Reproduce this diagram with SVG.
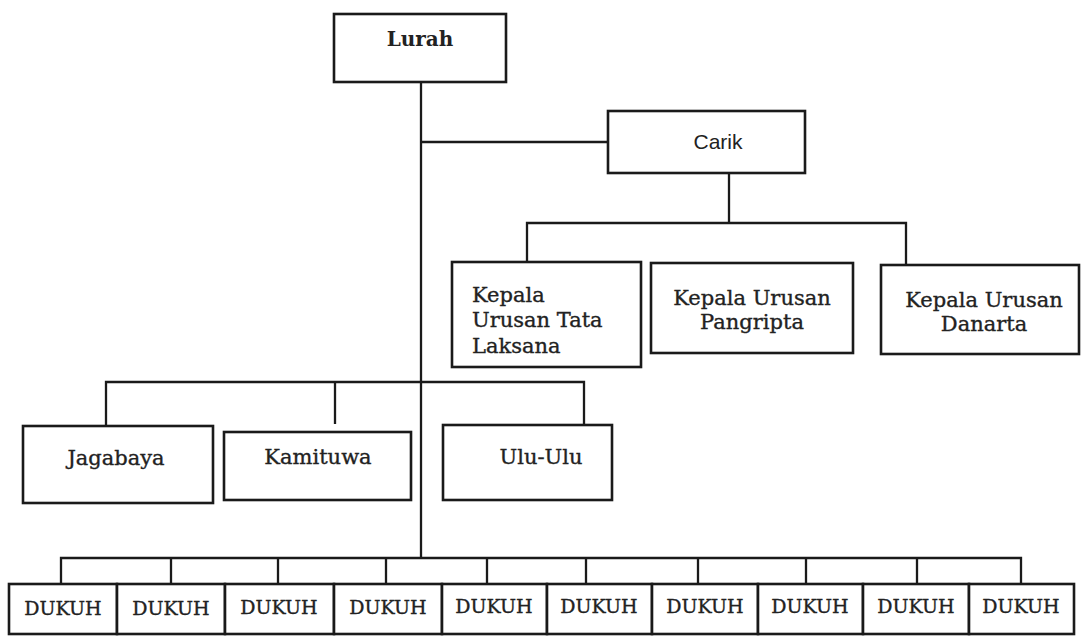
<svg xmlns="http://www.w3.org/2000/svg" width="1082" height="636" viewBox="0 0 1082 636">
<style>
.box{fill:#fff;stroke:#1a1a1a;stroke-width:2.6}
.ln{fill:none;stroke:#1a1a1a;stroke-width:2.3}
.t,.tl,.td{font-family:"DejaVu Serif",serif;fill:#222;stroke:#222;stroke-width:0.35}
.t{font-size:21px;text-anchor:middle}
.tl{font-size:21px}
.td{font-size:19px;text-anchor:middle}
.tb{font-family:"DejaVu Serif",serif;font-size:20px;font-weight:bold;fill:#222;text-anchor:middle}
.ts{font-family:"Liberation Sans",Arial,sans-serif;font-size:21px;fill:#222;text-anchor:middle}
</style>
<rect width="1082" height="636" fill="#fff"/>
<g id="connectors">
<path class="ln" d="M421 82 V558"/>
<path class="ln" d="M421 142 H608"/>
<path class="ln" d="M729 173 V223"/>
<path class="ln" d="M527 262 V223 H906 V265"/>
<path class="ln" d="M106 426 V382 H584 V425"/>
<path class="ln" d="M335 382 V424"/>
<path class="ln" d="M61 584 V558 H1021 V584"/>
<path class="ln" d="M171 558 V584 M278 558 V584 M386 558 V584 M487 558 V584 M586 558 V584 M698 558 V584 M806 558 V584 M917 558 V584"/>
</g>
<g id="lurah"><rect class="box" x="334" y="14" width="172" height="68"/><text class="tb" x="420" y="46">Lurah</text></g>
<g id="carik"><rect class="box" x="608" y="111" width="197" height="62"/><text class="ts" x="718" y="149">Carik</text></g>
<g id="kaur-tata-laksana"><rect class="box" x="452" y="262" width="189" height="105"/><text class="tl" x="472" y="302">Kepala</text><text class="tl" x="472" y="327">Urusan Tata</text><text class="tl" x="472" y="353">Laksana</text></g>
<g id="kaur-pangripta"><rect class="box" x="651" y="263" width="202" height="90"/><text class="t" x="752" y="305">Kepala Urusan</text><text class="t" x="752" y="329">Pangripta</text></g>
<g id="kaur-danarta"><rect class="box" x="881" y="265" width="198" height="89"/><text class="t" x="984" y="307">Kepala Urusan</text><text class="t" x="984" y="331">Danarta</text></g>
<g id="jagabaya"><rect class="box" x="23" y="426" width="190" height="77"/><text class="t" x="116" y="465">Jagabaya</text></g>
<g id="kamituwa"><rect class="box" x="224" y="432" width="187" height="68"/><text class="t" x="318" y="464">Kamituwa</text></g>
<g id="ulu-ulu"><rect class="box" x="443" y="425" width="169" height="75"/><text class="t" x="541" y="464">Ulu-Ulu</text></g>
<g id="dukuh-1"><rect class="box" x="9" y="584" width="108" height="50"/><text class="td" x="63" y="615">DUKUH</text></g>
<g id="dukuh-2"><rect class="box" x="117" y="584" width="108" height="50"/><text class="td" x="171" y="615">DUKUH</text></g>
<g id="dukuh-3"><rect class="box" x="225" y="584" width="109" height="50"/><text class="td" x="279" y="614">DUKUH</text></g>
<g id="dukuh-4"><rect class="box" x="334" y="584" width="108" height="50"/><text class="td" x="388" y="614">DUKUH</text></g>
<g id="dukuh-5"><rect class="box" x="442" y="584" width="105" height="50"/><text class="td" x="494" y="613">DUKUH</text></g>
<g id="dukuh-6"><rect class="box" x="547" y="584" width="105" height="50"/><text class="td" x="599" y="613">DUKUH</text></g>
<g id="dukuh-7"><rect class="box" x="652" y="584" width="106" height="50"/><text class="td" x="705" y="613">DUKUH</text></g>
<g id="dukuh-8"><rect class="box" x="758" y="584" width="105" height="50"/><text class="td" x="810" y="613">DUKUH</text></g>
<g id="dukuh-9"><rect class="box" x="863" y="584" width="106" height="50"/><text class="td" x="916" y="613">DUKUH</text></g>
<g id="dukuh-10"><rect class="box" x="969" y="584" width="105" height="50"/><text class="td" x="1021" y="613">DUKUH</text></g>
</svg>
